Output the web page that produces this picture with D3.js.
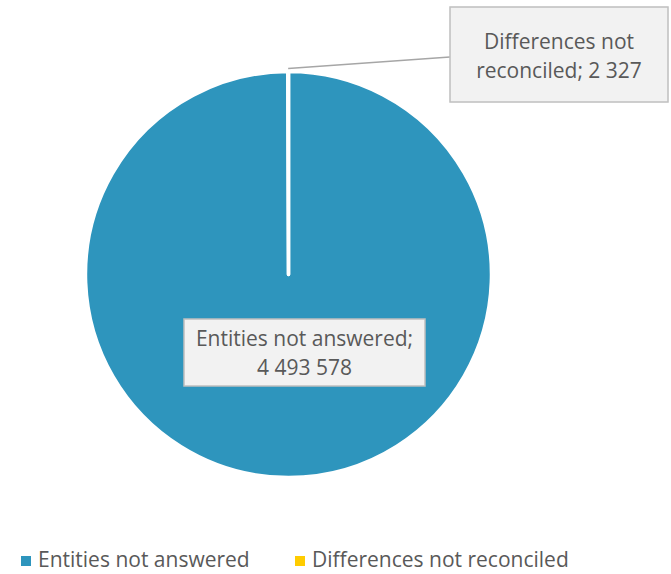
<!DOCTYPE html>
<html><head><meta charset="utf-8">
<script src="https://cdn.jsdelivr.net/npm/d3@7"></script>
<style>body{margin:0;background:#fff}</style>
</head><body>
<svg id="c" width="671" height="574"></svg>
<script>
const categories = ["Entities not answered", "Differences not reconciled"];
const values = [4493578, 2327];
const valueLabels = ["4 493 578", "2 327"];
const colors = ["#2e95bd", "#ffcc00"];

const svg = d3.select("#c");
const cx = 288.5, cy = 274.5, r = 203;
const font = "Open Sans, Liberation Sans, sans-serif";
const fs = 21;
const pie = d3.pie().sort(null).value(d => d)(values);
const arc = d3.arc().innerRadius(0).outerRadius(r);
const g = svg.append("g").attr("transform", `translate(${cx},${cy})`);
g.selectAll("path").data(pie).join("path")
  .attr("d", arc).attr("fill", (d, i) => colors[i])
  .attr("stroke", "#fff").attr("stroke-width", 3.5).attr("stroke-linejoin", "round");

// leader line for small slice
const small = pie[1];
const ang = (small.startAngle + small.endAngle) / 2;
const px = cx + Math.sin(ang) * (r + 3), py = cy - Math.cos(ang) * (r + 3);
svg.append("polyline").attr("points", `${px},${py} 450,57`)
  .attr("fill", "none").attr("stroke", "#a6a6a6").attr("stroke-width", 1.5);

function box(x, y, w, h, lines, b0) {
  svg.append("rect").attr("x", x).attr("y", y).attr("width", w).attr("height", h)
    .attr("fill", "#f2f2f2").attr("stroke", "#bfbfbf").attr("stroke-width", 1.5);
  lines.forEach((t, i) => svg.append("text").attr("x", x + w / 2).attr("y", b0 + i * 29)
    .attr("text-anchor", "middle").attr("font-family", font).attr("font-size", fs)
    .attr("fill", "#595959").text(t));
}
box(450, 7, 218, 95, ["Differences not", "reconciled; " + valueLabels[1]], 49);
box(184, 319, 241, 67, [categories[0] + ";", valueLabels[0]], 346);

// legend
const legX = [21, 295];
categories.forEach((c, i) => {
  svg.append("rect").attr("x", legX[i]).attr("y", 556).attr("width", 10).attr("height", 10).attr("fill", colors[i]);
  svg.append("text").attr("x", legX[i] + 17).attr("y", 567).attr("font-family", font)
    .attr("font-size", fs).attr("fill", "#595959").text(c);
});
</script>
</body></html>
